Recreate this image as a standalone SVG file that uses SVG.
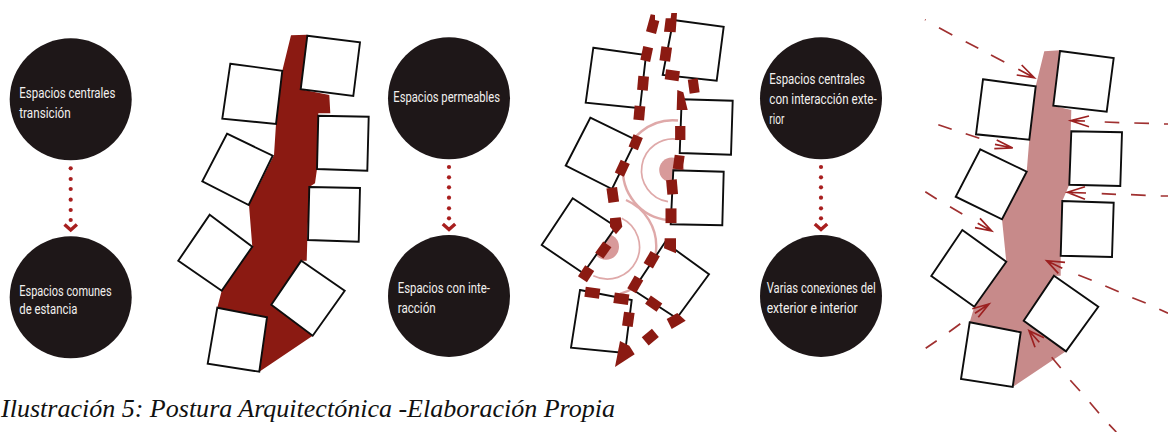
<svg xmlns="http://www.w3.org/2000/svg" width="1168" height="432" viewBox="0 0 1168 432">
<style>
.c{fill:#1e1718}
.t{font-family:"Roboto","Liberation Sans",sans-serif;font-size:15.5px;fill:#f2f0ee}
.s{fill:#fff;stroke:#0d0d0d;stroke-width:1.9;stroke-linejoin:miter}
.d{fill:#a81f1f}
.ch{fill:none;stroke:#a81f1f;stroke-width:3.4}
.r{fill:#8b1a12}
.p{fill:#c78a8a}
.a1{fill:none;stroke:#dfa9a9;stroke-width:1.7}
.a2{fill:none;stroke:#dfa9a9;stroke-width:2.4}
.dot{fill:#d89a9a}
.l{fill:none;stroke:#a03030;stroke-width:1.7}
.h{fill:none;stroke:#9c2020;stroke-width:1.7}
.cap{font-family:"Liberation Serif","Times New Roman",serif;font-style:italic;font-size:26px;fill:#111}
</style>
<g id="flow-1">
<circle class="c" cx="70.7" cy="99.3" r="61"/>
<text class="t" x="19.3" y="98" textLength="96" lengthAdjust="spacingAndGlyphs">Espacios centrales</text>
<text class="t" x="19.3" y="117.7" textLength="51.3" lengthAdjust="spacingAndGlyphs">transición</text>
<circle class="c" cx="70.7" cy="297.3" r="61"/>
<text class="t" x="19.3" y="295.7" textLength="92.3" lengthAdjust="spacingAndGlyphs">Espacios comunes</text>
<text class="t" x="19.3" y="314.3" textLength="58" lengthAdjust="spacingAndGlyphs">de estancia</text>
</g>
<g id="flow-2">
<circle class="c" cx="449" cy="98.3" r="61"/>
<text class="t" x="393.3" y="101.7" textLength="106.7" lengthAdjust="spacingAndGlyphs">Espacios permeables</text>
<circle class="c" cx="449" cy="296" r="61"/>
<text class="t" x="397.7" y="293.3" textLength="92.3" lengthAdjust="spacingAndGlyphs">Espacios con inte-</text>
<text class="t" x="397.7" y="313.3" textLength="38" lengthAdjust="spacingAndGlyphs">racción</text>
</g>
<g id="flow-3">
<circle class="c" cx="821" cy="98.3" r="61"/>
<text class="t" x="769.3" y="84.3" textLength="95.7" lengthAdjust="spacingAndGlyphs">Espacios centrales</text>
<text class="t" x="769.3" y="104" textLength="107.3" lengthAdjust="spacingAndGlyphs">con interacción exte-</text>
<text class="t" x="769.3" y="124.3" textLength="15" lengthAdjust="spacingAndGlyphs">rior</text>
<circle class="c" cx="821" cy="296" r="61"/>
<text class="t" x="766.7" y="293.3" textLength="109" lengthAdjust="spacingAndGlyphs">Varias conexiones del</text>
<text class="t" x="766.7" y="312.7" textLength="91" lengthAdjust="spacingAndGlyphs">exterior e interior</text>
</g>
<g id="connectors">
<g id="conn-1">
<circle class="d" cx="70.7" cy="168.3" r="2.1"/><circle class="d" cx="70.7" cy="179" r="2.1"/><circle class="d" cx="70.7" cy="189" r="2.1"/><circle class="d" cx="70.7" cy="199.7" r="2.1"/><circle class="d" cx="70.7" cy="210" r="2.1"/><circle class="d" cx="70.7" cy="220" r="2.1"/>
<polyline class="ch" points="64.5,224.5 70.7,230 76.9,224.5"/>
</g>
<g id="conn-2">
<circle class="d" cx="449" cy="167" r="2.1"/><circle class="d" cx="449" cy="177.3" r="2.1"/><circle class="d" cx="449" cy="187.3" r="2.1"/><circle class="d" cx="449" cy="197.7" r="2.1"/><circle class="d" cx="449" cy="208.3" r="2.1"/><circle class="d" cx="449" cy="218.3" r="2.1"/>
<polyline class="ch" points="442.8,224 449,229.5 455.2,224"/>
</g>
<g id="conn-3">
<circle class="d" cx="821" cy="167" r="2.1"/><circle class="d" cx="821" cy="177.3" r="2.1"/><circle class="d" cx="821" cy="187.3" r="2.1"/><circle class="d" cx="821" cy="197.7" r="2.1"/><circle class="d" cx="821" cy="208.3" r="2.1"/><circle class="d" cx="821" cy="218.3" r="2.1"/>
<polyline class="ch" points="814.8,224 821,229.5 827.2,224"/>
</g>
</g>
<g id="plan-1">
<polygon class="r" points="291,35.3 307.3,34.7 300.7,89.3 329.3,95 330.3,113.3 318.3,113.3 317,169 315,183.3 309.3,187 307.3,240 306.7,260.7 301.3,260.7 271.3,304.7 312.7,335.7 259.3,371.7 217.3,307.7 221.7,290.7 252.3,246.7 249,205 274,155 276,124 282.3,70.7"/>
<polygon class="s" points="307.3,35.7 360,42.3 353.3,96 300.7,89.3"/>
<polygon class="s" points="230.3,63.7 282.3,70.7 276,124 222.3,118.7"/>
<polygon class="s" points="318.3,115.7 368.7,116.7 367.3,170.7 317,169"/>
<polygon class="s" points="227,133.7 272.7,155.7 248.7,205 202.3,181.3"/>
<polygon class="s" points="309.3,187 360,188 358.7,241.7 308,240"/>
<polygon class="s" points="209.7,214.7 252.3,246.7 221.7,290.7 178.3,260.7"/>
<polygon class="s" points="301.3,260.7 344.7,290.7 312.7,335.7 271.3,304.7"/>
<polygon class="s" points="217.3,307.7 267,317.3 259.3,371.7 207.7,363.7"/>
</g>
<g id="plan-2">
<path class="a2" d="M678,120.5A50,50 0 1 0 668,220"/>
<path class="a1" d="M678.3,139.3A31.5,31.5 0 1 0 668,201.7"/>
<path class="a1" d="M621.7,218.3A32,32 0 0 1 593.3,275.7"/>
<path class="a2" d="M626,200A50,50 0 0 1 620,294"/>
<circle class="dot" cx="671.7" cy="170" r="12.5"/>
<circle class="dot" cx="606" cy="246.7" r="13"/>
<polygon class="s" points="673.3,20 723.7,26.7 716.7,80.7 662.7,75"/>
<polygon class="s" points="593.3,47.7 646,55 640,108.3 585.7,102.7"/>
<polygon class="s" points="681.7,99.3 732.7,100.7 731,154.7 679.7,153"/>
<polygon class="s" points="590.3,117.7 636,140 612,189 565.7,165.7"/>
<polygon class="s" points="673.3,170.3 723.7,171.7 722.3,225.3 670.7,224.3"/>
<polygon class="s" points="572.7,198.3 616,226.7 583.3,273.3 541.7,245"/>
<polygon class="s" points="665,242.3 709,274.3 676.7,318.3 633.3,290"/>
<polygon class="s" points="580,290 631.7,300 625,353 571,347.7"/>
<polygon class="r" points="650.7,14.3 655,15 655,20 659.3,21 656,34 646,31.3"/>
<polygon class="r" points="671.3,13 677,13 675.7,32.3 664,31.7 665.7,18.3 670.7,18.3"/>
<polygon class="r" points="677.3,90 683.3,92.3 687.7,110 676.7,110"/>
<polygon class="r" points="610,218.3 620.7,217.3 622.3,226.7 616,234.3 610,226.7"/>
<polygon class="r" points="664.7,238.3 676,238.3 676,253.3 664,248.3"/>
<polygon class="r" points="666.7,319 677.3,313 685.7,320.7 671.7,329"/>
<polygon class="r" points="620,341 629.3,345.7 634.7,354.3 615,367"/>
<rect class="r" x="-5" y="-7" width="10" height="14" transform="translate(646.7 54) rotate(12)"/>
<rect class="r" x="-5.3" y="-7" width="10.7" height="14" transform="translate(665.7 54) rotate(8)"/>
<rect class="r" x="-5.3" y="-7" width="10.7" height="14" transform="translate(643 83.3) rotate(5)"/>
<rect class="r" x="-7" y="-5" width="14" height="10" transform="translate(672.3 75.3) rotate(8)"/>
<rect class="r" x="-5" y="-7" width="10" height="14" transform="translate(693.7 86) rotate(-8)"/>
<rect class="r" x="-5.3" y="-7" width="10.7" height="14" transform="translate(639.3 113) rotate(5)"/>
<rect class="r" x="-5.2" y="-7" width="10.3" height="14" transform="translate(680.3 133)"/>
<rect class="r" x="-5" y="-6.7" width="10" height="13.3" transform="translate(635.7 142.3) rotate(22)"/>
<rect class="r" x="-5" y="-7" width="10" height="14" transform="translate(678.7 162.3) rotate(8)"/>
<rect class="r" x="-5" y="-7" width="10" height="14" transform="translate(622.3 168.3) rotate(25)"/>
<rect class="r" x="-5.3" y="-7.3" width="10.7" height="14.7" transform="translate(672 187) rotate(-5)"/>
<rect class="r" x="-5.3" y="-7.3" width="10.7" height="14.7" transform="translate(612.7 195) rotate(-8)"/>
<rect class="r" x="-5" y="-7" width="10" height="14" transform="translate(603.3 250) rotate(35)"/>
<rect class="r" x="-5.3" y="-6.7" width="10.7" height="13.3" transform="translate(586 273.7) rotate(33)"/>
<rect class="r" x="-5.5" y="-7.3" width="11" height="14.7" transform="translate(671 215.7)"/>
<rect class="r" x="-5.3" y="-7" width="10.7" height="14" transform="translate(651.7 259.7) rotate(30)"/>
<rect class="r" x="-5" y="-7.3" width="10" height="14.7" transform="translate(635.3 284.3) rotate(30)"/>
<rect class="r" x="-7.3" y="-5" width="14.7" height="10" transform="translate(592.3 292.7) rotate(8)"/>
<rect class="r" x="-7.3" y="-5.3" width="14.7" height="10.7" transform="translate(621.3 298.7) rotate(8)"/>
<rect class="r" x="-7" y="-5" width="14" height="10" transform="translate(653.7 303.7) rotate(35)"/>
<rect class="r" x="-6.7" y="-5.3" width="13.3" height="10.7" transform="translate(650.3 337) rotate(-40)"/>
<rect class="r" x="-5.3" y="-7" width="10.7" height="14" transform="translate(628.3 319.3) rotate(8)"/>
</g>
<g id="plan-3">
<polygon class="p" points="1044.3,51.3 1060,50.3 1053.3,105.7 1071.3,110 1069.3,184.7 1062.3,201 1060.7,255.7 1060.7,275.7 1054,275.7 1023.7,320.7 1066,351.3 1012.7,387 969.7,322.3 974.3,306.7 1006.3,261.7 1002,219.3 1026.7,171.7 1029.3,139.7 1035.7,86.3"/>
<polygon class="s" points="1060,51 1113.7,58 1106.7,111.7 1053.3,105.7"/>
<polygon class="s" points="983,79.3 1035.7,86.3 1029.3,139.7 976,134.3"/>
<polygon class="s" points="1071.3,131.3 1122,132.3 1120.3,186 1069.3,184.7"/>
<polygon class="s" points="980.3,149.3 1026.7,171.7 1002,219.3 955.7,196.7"/>
<polygon class="s" points="1062.3,201 1113.7,202.7 1112,257 1060.7,255.7"/>
<polygon class="s" points="962.3,230 1006.3,261.7 974.3,306.7 931.3,276"/>
<polygon class="s" points="1054,275.7 1098.3,306.7 1066,351.3 1023.7,320.7"/>
<polygon class="s" points="969.7,322.3 1020.7,332.3 1012.7,387 961,379"/>
<g id="approach-arrows">
<path class="l" d="M925,19.6L925.6,20M939,27.7L952.3,35M965.7,41.7L978.3,48.3M991,55L1004.3,62"/>
<path class="h" d="M1016.7,75L1034.3,77.7L1021.7,65M1018.3,69.3L1034.3,77.7"/>
<path class="l" d="M1104.7,122L1119.3,122.7M1134.3,123L1149,123.3M1164,124L1168,124"/>
<path class="h" d="M1089,116L1070.7,120.7L1089,126.7M1085,121L1070.7,120.7"/>
<path class="l" d="M938.3,124.7L951.7,129.3M965.7,133.7L979.3,138.3"/>
<path class="h" d="M996.7,140L1012.7,148L994.3,148.7M995,144.3L1012.7,148"/>
<path class="l" d="M1101.7,193.7L1116,194.3M1131,194.7L1145.7,195.3M1160.7,196L1168,196"/>
<path class="h" d="M1085,186.7L1067.3,192.3L1085,199.3M1086,193L1067.3,192.3"/>
<path class="l" d="M925.3,191.7L936.7,199M950,206.7L962.3,214"/>
<path class="h" d="M980,218.3L991.7,231L975,227.7M977.7,223.3L991.7,231"/>
<path class="l" d="M925.7,348.3L936.7,340.7M949,332L960.3,323.7"/>
<path class="h" d="M972.3,308.7L989,304L978.3,317.3M975,313.3L989,304"/>
<path class="l" d="M1078.3,275L1091.7,280.3M1105.3,286L1118.7,291.7M1132.3,297.7L1145.7,303M1159.3,309.3L1168,313.3"/>
<path class="h" d="M1065,262.3L1046.7,260.7L1058.3,273.3M1062.3,268.3L1046.7,260.7"/>
<path class="l" d="M1051.7,357.3L1060.7,368M1070.3,380.3L1080,391M1089.7,402.3L1099,413.3M1109,424.3L1116.3,432"/>
<path class="h" d="M1044,337.7L1029,330.7L1035,347.3M1039.3,342.3L1029,330.7"/>
</g>
</g>
<text class="cap" x="1" y="417" textLength="614" lengthAdjust="spacingAndGlyphs">Ilustración 5: Postura Arquitectónica -Elaboración Propia</text>
</svg>
